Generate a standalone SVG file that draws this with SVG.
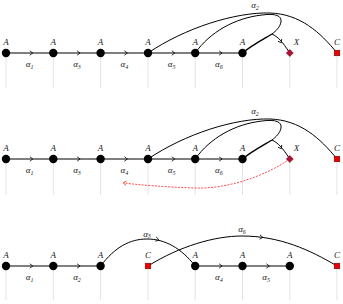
<svg xmlns="http://www.w3.org/2000/svg" xmlns:xlink="http://www.w3.org/1999/xlink" width="343" height="304" viewBox="0 0 343 304">
<style>
.g{stroke:#dcdcdc;stroke-width:0.8}
.e{stroke:#000;stroke-width:1;fill:none}
.ah{stroke:#000;stroke-width:0.8;fill:none}
.n{fill:#000}
.c{fill:#ee0000;stroke:#600;stroke-width:0.5}
.x{fill:#b0103a;stroke:#600;stroke-width:0.5}
.l{font-family:"Liberation Serif",serif;font-style:italic;font-size:9px;text-anchor:middle;fill:#222}
.s{font-size:6px}
.r{stroke:#ff2020;stroke-width:0.8;fill:none;stroke-dasharray:2 1.3}
</style>
<defs>
<path id="ah" d="M-2.2,-2.2 L0.8,0 L-2.2,2.2"/>
<path id="ahr" d="M2.2,-2.2 L-0.8,0 L2.2,2.2"/>
</defs>
<g id="guides">
<line class="g" x1="6" y1="53" x2="6" y2="88"/><line class="g" x1="53.3" y1="53" x2="53.3" y2="88"/><line class="g" x1="100.6" y1="53" x2="100.6" y2="88"/><line class="g" x1="148" y1="53" x2="148" y2="88"/><line class="g" x1="195.2" y1="53" x2="195.2" y2="88"/><line class="g" x1="242.5" y1="53" x2="242.5" y2="88"/><line class="g" x1="289.8" y1="53" x2="289.8" y2="88"/><line class="g" x1="337" y1="53" x2="337" y2="88"/>
<line class="g" x1="6" y1="159" x2="6" y2="195"/><line class="g" x1="53.3" y1="159" x2="53.3" y2="195"/><line class="g" x1="100.6" y1="159" x2="100.6" y2="195"/><line class="g" x1="148" y1="159" x2="148" y2="195"/><line class="g" x1="195.2" y1="159" x2="195.2" y2="195"/><line class="g" x1="242.5" y1="159" x2="242.5" y2="195"/><line class="g" x1="289.8" y1="159" x2="289.8" y2="195"/><line class="g" x1="337" y1="159" x2="337" y2="195"/>
<line class="g" x1="6" y1="266" x2="6" y2="300"/><line class="g" x1="53.3" y1="266" x2="53.3" y2="300"/><line class="g" x1="100.6" y1="266" x2="100.6" y2="300"/><line class="g" x1="148" y1="266" x2="148" y2="300"/><line class="g" x1="195.2" y1="266" x2="195.2" y2="300"/><line class="g" x1="242.5" y1="266" x2="242.5" y2="300"/><line class="g" x1="289.8" y1="266" x2="289.8" y2="300"/><line class="g" x1="337" y1="266" x2="337" y2="300"/>
</g>
<g id="connectors">
<!-- row 1 -->
<path class="e" d="M6,53 H242.5"/>
<path class="e" d="M148,53 C185,28 235,12 270,13 C300,14 320,32 337,53"/>
<path class="e" d="M195.2,53 C210,32 235,18 262,15 C276,13 282,16 281,22 C280,27 276,31 272,34 C278,37 282,41 289.8,53"/>
<path class="e" style="stroke-width:1.4" d="M242.5,53 C252,45 262,40 272,34"/>
<!-- row 2 -->
<path class="e" d="M6,159 H242.5"/>
<path class="e" d="M148,159 C185,134 235,118 270,119 C300,120 320,138 337,159"/>
<path class="e" d="M195.2,159 C210,138 235,124 262,121 C276,119 282,122 281,128 C280,133 276,137 272,140 C278,143 282,147 289.8,159"/>
<path class="e" style="stroke-width:1.4" d="M242.5,159 C252,151 262,146 272,140"/>
<path class="r" d="M289.8,159 C262,178 225,189 195,188 C165,187 140,185 124,183"/>
<!-- row 3 -->
<path class="e" d="M6,266 H100.6 M195.2,266 H289.8"/>
<path class="e" d="M100.6,266 C115,247 130,239 147,239 C165,239 181,248 195.2,266"/>
<path class="e" d="M148,266 C180,246 215,236 242,236 C280,236 310,250 337,266"/>
<!-- arrowheads -->
<g class="ah">
<use xlink:href="#ah" transform="translate(32,53)"/><use xlink:href="#ah" transform="translate(79.3,53)"/><use xlink:href="#ah" transform="translate(126.6,53)"/><use xlink:href="#ah" transform="translate(174,53)"/><use xlink:href="#ah" transform="translate(221.3,53)"/>
<use xlink:href="#ah" transform="translate(281,42) rotate(58)"/>
<use xlink:href="#ah" transform="translate(32,159)"/><use xlink:href="#ah" transform="translate(79.3,159)"/><use xlink:href="#ah" transform="translate(126.6,159)"/><use xlink:href="#ah" transform="translate(174,159)"/><use xlink:href="#ah" transform="translate(221.3,159)"/>
<use xlink:href="#ah" transform="translate(281,148) rotate(58)"/>
<use xlink:href="#ah" transform="translate(32,266)"/><use xlink:href="#ah" transform="translate(79.3,266)"/><use xlink:href="#ah" transform="translate(221.3,266)"/><use xlink:href="#ah" transform="translate(268.6,266)"/>
<use xlink:href="#ah" transform="translate(158,239.5) rotate(8)"/>
<use xlink:href="#ah" transform="translate(262,237.3) rotate(6)"/>
</g>
<use xlink:href="#ahr" transform="translate(124,183) rotate(4)" style="stroke:#ff2020;stroke-width:0.8;fill:none"/>
</g>
<g id="row1">
<g id="r1n1"><circle class="n" cx="6" cy="53" r="4.2"/><text class="l" x="6" y="45">A</text></g>
<g id="r1n2"><circle class="n" cx="53.3" cy="53" r="4.2"/><text class="l" x="53.3" y="45">A</text></g>
<g id="r1n3"><circle class="n" cx="100.6" cy="53" r="4.2"/><text class="l" x="100.6" y="45">A</text></g>
<g id="r1n4"><circle class="n" cx="148" cy="53" r="4.2"/><text class="l" x="148" y="45">A</text></g>
<g id="r1n5"><circle class="n" cx="195.2" cy="53" r="4.2"/><text class="l" x="195.2" y="45">A</text></g>
<g id="r1n6"><circle class="n" cx="242.5" cy="53" r="4.2"/><text class="l" x="242.5" y="45">A</text></g>
<g id="r1x"><path class="x" d="M289.8,49.5 L293.3,53 L289.8,56.5 L286.3,53 Z"/><text class="l" x="296.5" y="45">X</text></g>
<g id="r1c"><rect class="c" x="334.2" y="50.2" width="5.6" height="5.6"/><text class="l" x="337" y="45">C</text></g>
<text class="l" x="29.6" y="67">α<tspan class="s" dy="1.5">1</tspan></text>
<text class="l" x="77" y="67">α<tspan class="s" dy="1.5">3</tspan></text>
<text class="l" x="124.3" y="67">α<tspan class="s" dy="1.5">4</tspan></text>
<text class="l" x="171.6" y="67">α<tspan class="s" dy="1.5">5</tspan></text>
<text class="l" x="218.9" y="67">α<tspan class="s" dy="1.5">6</tspan></text>
<text class="l" x="255" y="8">α<tspan class="s" dy="1.5">2</tspan></text>
</g>
<g id="row2">
<g id="r2n1"><circle class="n" cx="6" cy="159" r="4.2"/><text class="l" x="6" y="151">A</text></g>
<g id="r2n2"><circle class="n" cx="53.3" cy="159" r="4.2"/><text class="l" x="53.3" y="151">A</text></g>
<g id="r2n3"><circle class="n" cx="100.6" cy="159" r="4.2"/><text class="l" x="100.6" y="151">A</text></g>
<g id="r2n4"><circle class="n" cx="148" cy="159" r="4.2"/><text class="l" x="148" y="151">A</text></g>
<g id="r2n5"><circle class="n" cx="195.2" cy="159" r="4.2"/><text class="l" x="195.2" y="151">A</text></g>
<g id="r2n6"><circle class="n" cx="242.5" cy="159" r="4.2"/><text class="l" x="242.5" y="151">A</text></g>
<g id="r2x"><path class="x" d="M289.8,155.5 L293.3,159 L289.8,162.5 L286.3,159 Z"/><text class="l" x="296.5" y="151">X</text></g>
<g id="r2c"><rect class="c" x="334.2" y="156.2" width="5.6" height="5.6"/><text class="l" x="337" y="151">C</text></g>
<text class="l" x="29.6" y="173">α<tspan class="s" dy="1.5">1</tspan></text>
<text class="l" x="77" y="173">α<tspan class="s" dy="1.5">3</tspan></text>
<text class="l" x="124.3" y="173">α<tspan class="s" dy="1.5">4</tspan></text>
<text class="l" x="171.6" y="173">α<tspan class="s" dy="1.5">5</tspan></text>
<text class="l" x="218.9" y="173">α<tspan class="s" dy="1.5">6</tspan></text>
<text class="l" x="255" y="114">α<tspan class="s" dy="1.5">2</tspan></text>
</g>
<g id="row3">
<g id="r3n1"><circle class="n" cx="6" cy="266" r="4.2"/><text class="l" x="6" y="257.5">A</text></g>
<g id="r3n2"><circle class="n" cx="53.3" cy="266" r="4.2"/><text class="l" x="53.3" y="257.5">A</text></g>
<g id="r3n3"><circle class="n" cx="100.6" cy="266" r="4.2"/><text class="l" x="100.6" y="257.5">A</text></g>
<g id="r3c1"><rect class="c" x="145.2" y="263.2" width="5.6" height="5.6"/><text class="l" x="148" y="257.5">C</text></g>
<g id="r3n5"><circle class="n" cx="195.2" cy="266" r="4.2"/><text class="l" x="195.2" y="257.5">A</text></g>
<g id="r3n6"><circle class="n" cx="242.5" cy="266" r="4.2"/><text class="l" x="242.5" y="257.5">A</text></g>
<g id="r3n7"><circle class="n" cx="289.8" cy="266" r="4.2"/><text class="l" x="289.8" y="257.5">A</text></g>
<g id="r3c2"><rect class="c" x="334.2" y="263.2" width="5.6" height="5.6"/><text class="l" x="337" y="257.5">C</text></g>
<text class="l" x="29.6" y="280">α<tspan class="s" dy="1.5">1</tspan></text>
<text class="l" x="77" y="280">α<tspan class="s" dy="1.5">2</tspan></text>
<text class="l" x="218.9" y="280">α<tspan class="s" dy="1.5">4</tspan></text>
<text class="l" x="266.2" y="280">α<tspan class="s" dy="1.5">5</tspan></text>
<text class="l" x="147" y="236.5">α<tspan class="s" dy="1.5">3</tspan></text>
<text class="l" x="242" y="232">α<tspan class="s" dy="1.5">6</tspan></text>
</g>
</svg>
